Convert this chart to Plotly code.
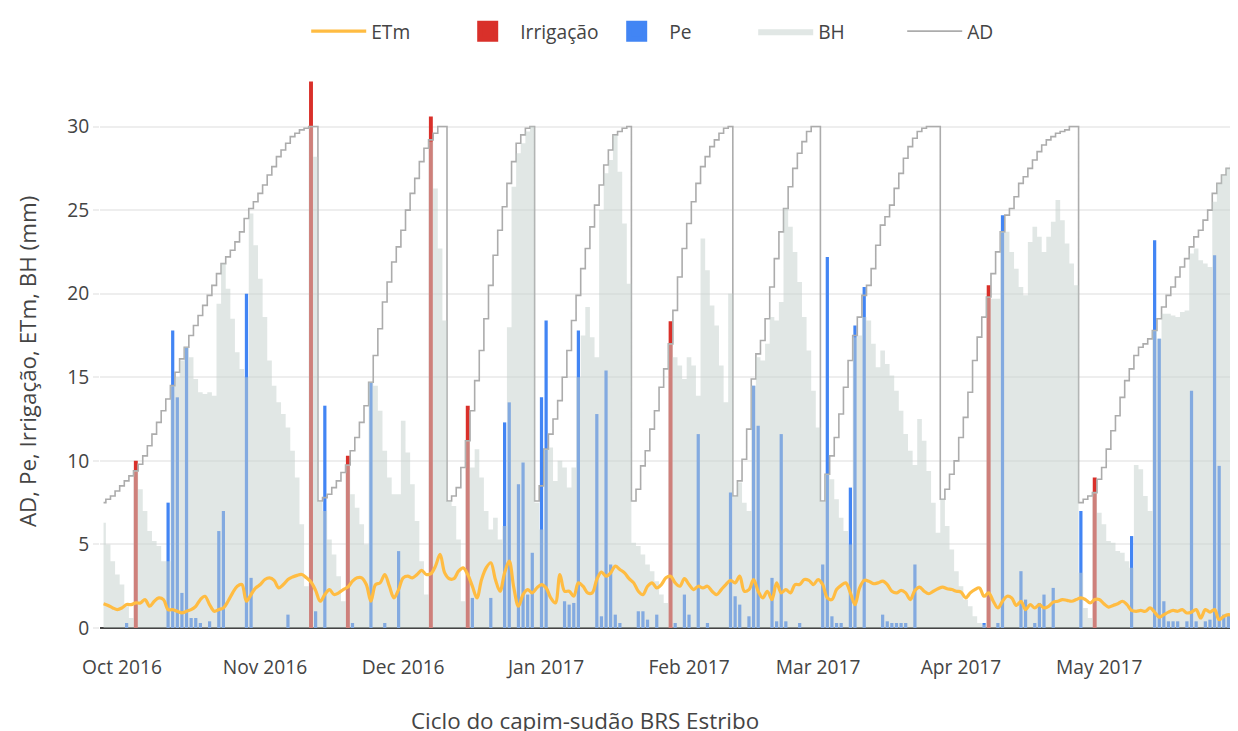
import pandas as pd
import plotly.graph_objects as go

# daily axis: 2016-09-27 .. 2017-05-31
dates = pd.date_range("2016-09-27", "2017-05-31", freq="D")

# AD (mm) - available water, daily
ad_mm = [
    # Sep 27-30
    7.5, 7.7, 7.9, 8.2,
    # Oct
    8.5, 8.8, 9.1, 9.4, 9.8, 10.3, 10.9, 11.6, 12.3, 13.0, 13.7, 14.5, 15.3, 16.1, 16.8, 17.5,
    18.1, 18.7, 19.3, 19.9, 20.5, 21.2, 21.8, 22.2, 22.6, 23.1, 23.7, 24.5, 25.1, 25.5, 26.0,
    # Nov
    26.5, 27.1, 27.6, 28.2, 28.6, 29.0, 29.4, 29.6, 29.8, 29.9, 30.0, 30.0,
    7.6, 7.8, 8.0, 8.4, 8.8, 9.3, 9.75, 10.6, 11.4, 12.3, 13.3, 14.7, 16.3, 17.9, 19.5, 20.7, 21.9, 22.8,
    # Dec
    23.8, 25.0, 26.0, 26.9, 27.9, 28.7, 29.2, 29.6, 30.0, 30.0,
    7.6, 7.9, 8.4, 9.6, 11.2, 13.0, 14.8, 16.6, 18.5, 20.5, 22.3, 23.8, 25.2, 26.6, 27.9, 29.0, 29.5, 29.9, 30.0,
    7.6, 8.5,
    # Jan
    10.7, 11.6, 12.5, 13.6, 15.0, 16.6, 18.4, 19.9, 21.5, 22.7, 24.0, 25.3, 26.5, 27.7, 28.6, 29.5, 29.7, 29.9, 30.0,
    7.6, 8.3, 9.7, 10.6, 11.9, 13.0, 14.4, 15.5, 17.0, 19.0, 21.0, 22.7,
    # Feb
    24.2, 25.5, 26.6, 27.6, 28.2, 28.8, 29.2, 29.6, 29.9, 30.0,
    7.9, 8.8, 10.1, 11.9, 14.9, 16.4, 17.2, 18.5, 20.4, 22.1, 23.7, 25.1, 26.4, 27.5, 28.4, 29.1, 29.7, 30.0,
    # Mar
    30.0,
    7.6, 9.2, 10.3, 11.4, 12.8, 14.4, 16.0, 17.5, 18.6, 19.9, 20.5, 21.5, 22.9, 24.1, 24.6, 25.3, 26.3,
    27.2, 28.1, 28.8, 29.3, 29.7, 29.9, 30.0, 30.0, 30.0,
    7.7, 8.3, 9.2, 10.0,
    # Apr
    11.4, 12.6, 14.1, 16.0, 17.4, 18.6, 19.8, 21.2, 22.5, 23.7, 24.7, 25.1, 25.8, 26.6, 27.0, 27.5, 28.0,
    28.5, 28.9, 29.2, 29.4, 29.6, 29.7, 29.8, 30.0, 30.0,
    7.5, 7.7, 7.9, 8.1,
    # May
    8.9, 9.6, 10.7, 11.8, 12.7, 13.8, 14.8, 15.5, 16.3, 16.8, 17.0, 17.3, 17.8, 18.5, 19.2, 19.9, 20.4,
    21.0, 21.6, 22.1, 22.8, 23.4, 23.8, 24.4, 25.0, 26.0, 26.6, 27.1, 27.5, 27.7, 27.9,
]

# BH (mm) - soil water balance, daily
bh_mm = [
    # Sep 27-30
    6.3, 5.0, 4.0, 3.2,
    # Oct
    2.6, 1.3, 0.6, 9.4, 8.3, 7.0, 5.8, 5.2, 4.9, 4.0, 4.0, 14.5, 15.0, 16.0, 16.8, 16.2,
    14.9, 14.1, 14.0, 14.1, 13.9, 19.4, 21.8, 20.3, 18.5, 16.5, 15.5, 15.0, 24.8, 22.9, 20.9,
    # Nov
    18.6, 16.0, 14.5, 13.5, 12.8, 12.0, 10.6, 9.0, 6.2, 2.5, 30.0, 28.2, 7.6, 7.0, 5.3,
    4.4, 3.1, 1.6, 9.75, 8.0, 7.2, 6.2, 5.0, 14.7, 14.5, 13.0, 10.6, 9.0, 8.0, 8.0,
    # Dec
    12.4, 10.5, 8.6, 6.4, 4.0, 2.0, 29.1, 26.3, 22.7, 18.4, 7.6, 7.3, 5.3, 1.6, 11.2, 9.6,
    10.7, 9.0, 7.0, 5.9, 6.6, 5.3, 6.1, 18.0, 26.4, 28.4, 29.0, 29.7, 30.0, 7.5, 5.9,
    # Jan
    10.7, 10.8, 8.8, 10.0, 9.6, 8.4, 9.6, 15.0, 17.5, 19.2, 17.4, 16.2, 25.0, 27.2, 28.0, 29.5,
    27.3, 24.2, 20.6, 5.1, 4.9, 4.4, 3.8, 3.4, 2.8, 2.0, 1.5, 17.0, 16.2, 15.7, 14.9,
    # Feb
    16.2, 15.7, 13.9, 23.3, 21.4, 19.3, 18.1, 15.7, 13.5, 20.0, 7.9, 8.7, 7.5, 7.0,
    14.5, 16.2, 16.0, 17.0, 18.6, 18.4, 19.5, 25.1, 24.0, 22.5, 20.7, 18.6, 16.6, 14.2,
    # Mar
    12.0, 7.6, 9.2, 8.9, 7.7, 6.6, 5.8, 5.0, 17.4, 17.5, 18.6, 18.4, 17.0, 15.6, 16.6, 15.8,
    15.1, 14.2, 13.0, 11.6, 10.6, 9.75, 12.5, 11.2, 9.4, 7.5, 5.7, 7.7, 6.1, 4.7, 3.4,
    # Apr
    2.5, 1.7, 1.3, 0.7, 0.3, 0.2, 19.8, 19.7, 19.7, 23.7, 23.7, 22.5, 21.5, 20.4, 19.9,
    23.1, 24.0, 23.4, 22.5, 23.4, 24.3, 25.6, 24.4, 23.0, 21.8, 20.5, 3.3, 1.2, 0.6, 8.1,
    # May
    6.9, 6.2, 5.2, 5.1, 4.6, 4.5, 4.0, 3.6, 9.75, 9.5, 7.9, 7.0, 17.8, 17.3, 18.8, 18.8,
    18.7, 18.6, 18.9, 19.0, 22.4, 22.7, 22.0, 21.8, 21.6, 25.5, 26.6, 27.1, 27.5, 27.7, 27.9,
]

# ETm (mm/day)
etm_mm = [
    # Sep 27-30
    1.45, 1.35, 1.2, 1.1,
    # Oct
    1.2, 1.4, 1.4, 1.5, 1.5, 1.7, 1.3, 1.6, 1.8, 1.7, 1.1, 1.1, 1.0, 0.9, 1.0, 1.1,
    1.3, 1.7, 1.9, 1.4, 1.0, 1.1, 1.2, 1.6, 2.1, 2.5, 2.6, 1.6, 2.0, 2.4, 2.6,
    # Nov
    2.9, 3.0, 2.85, 2.4, 2.6, 2.9, 3.05, 3.15, 3.2, 3.0, 2.75, 2.25, 1.6, 2.0, 2.3,
    2.0, 2.1, 2.3, 2.45, 2.8, 3.0, 3.0, 2.6, 1.6, 2.6, 2.7, 3.2, 2.5, 1.8, 2.3,
    # Dec
    3.0, 3.1, 3.0, 3.2, 3.45, 3.2, 3.25, 3.7, 4.4, 3.3, 2.95, 2.95, 3.4, 3.6, 3.2, 2.5,
    1.8, 2.9, 3.6, 3.9, 2.9, 2.2, 3.3, 4.0, 2.4, 1.3, 2.0, 2.3, 2.1, 2.4, 2.6,
    # Jan
    2.4, 1.8, 1.5, 3.2, 2.2, 2.2, 1.9, 2.7, 2.5, 2.1, 2.1, 2.9, 3.35, 3.1, 3.3, 3.7,
    3.5, 3.3, 2.95, 2.7, 2.2, 2.0, 2.5, 2.7, 2.4, 2.6, 3.0, 3.1, 2.7, 2.5, 2.95,
    # Feb
    2.6, 2.3, 2.5, 2.4, 2.5, 2.2, 2.0, 2.3, 2.6, 2.85, 2.7, 3.1, 2.2, 2.3,
    2.9, 2.2, 1.8, 2.2, 1.7, 2.7, 2.1, 2.3, 2.1, 2.6, 2.6, 2.9, 2.85, 2.6,
    # Mar
    2.9, 2.6, 1.8, 1.7, 2.3, 2.55, 2.7, 2.1, 1.4, 2.4, 2.85, 2.8, 2.65, 2.7, 2.8, 2.6,
    2.2, 2.1, 2.25, 2.1, 1.7, 2.25, 2.45, 2.2, 2.05, 2.2, 2.35, 2.45, 2.35, 2.3, 2.2,
    # Apr
    2.15, 1.8, 2.1, 2.3, 2.4, 1.9, 2.1, 1.6, 1.2, 1.6, 1.9, 1.8, 1.35, 1.6, 1.1,
    1.4, 1.2, 1.4, 1.2, 1.3, 1.55, 1.6, 1.7, 1.65, 1.6, 1.7, 1.8, 1.7, 1.5, 1.7,
    # May
    1.7, 1.45, 1.25, 1.35, 1.45, 1.6, 1.4, 1.05, 1.0, 1.05, 1.0, 1.2, 0.95, 0.65, 0.8, 0.95,
    1.05, 1.0, 1.1, 0.9, 0.95, 1.1, 0.6, 1.1, 0.95, 1.1, 0.5, 0.7, 0.8, 0.75, 0.7,
]

# Pe (mm) - effective precipitation events
pe_dates = [
    "2016-10-02", "2016-10-11", "2016-10-12", "2016-10-13", "2016-10-14", "2016-10-15",
    "2016-10-16", "2016-10-17", "2016-10-18", "2016-10-20", "2016-10-22", "2016-10-23",
    "2016-10-28", "2016-10-29", "2016-11-06", "2016-11-12", "2016-11-14", "2016-11-20",
    "2016-11-24", "2016-11-27", "2016-11-30", "2016-12-16", "2016-12-20", "2016-12-23",
    "2016-12-24", "2016-12-26", "2016-12-27", "2016-12-28", "2016-12-29", "2016-12-31",
    "2017-01-01", "2017-01-05", "2017-01-06", "2017-01-07", "2017-01-08", "2017-01-12",
    "2017-01-13", "2017-01-14", "2017-01-15", "2017-01-16", "2017-01-17", "2017-01-21",
    "2017-01-22", "2017-01-23", "2017-01-25", "2017-01-29", "2017-01-31", "2017-02-01",
    "2017-02-03", "2017-02-05", "2017-02-10", "2017-02-11", "2017-02-12", "2017-02-14",
    "2017-02-15", "2017-02-16", "2017-02-19", "2017-02-20", "2017-02-21", "2017-02-22",
    "2017-02-25", "2017-03-02", "2017-03-03", "2017-03-04", "2017-03-05", "2017-03-06",
    "2017-03-08", "2017-03-09", "2017-03-11", "2017-03-15", "2017-03-16", "2017-03-17",
    "2017-03-18", "2017-03-19", "2017-03-20", "2017-03-22", "2017-04-06", "2017-04-09",
    "2017-04-10", "2017-04-14", "2017-04-15", "2017-04-17", "2017-04-18", "2017-04-19",
    "2017-04-21", "2017-04-27", "2017-05-08", "2017-05-13", "2017-05-14", "2017-05-15",
    "2017-05-16", "2017-05-17", "2017-05-18", "2017-05-20", "2017-05-21", "2017-05-22",
    "2017-05-24", "2017-05-25", "2017-05-26", "2017-05-27", "2017-05-28", "2017-05-29",
    "2017-05-30",
]
pe_mm = [
    0.3, 7.5, 17.8, 13.8, 2.1, 16.8,
    0.6, 0.6, 0.3, 0.4, 5.8, 7.0,
    20.0, 3.0, 0.8, 1.0, 13.3, 0.3,
    14.7, 0.3, 4.6, 1.8, 1.8, 12.3,
    13.5, 8.6, 9.9, 2.0, 4.5, 13.8,
    18.4, 1.6, 1.4, 1.5, 17.8, 12.8,
    0.7, 15.4, 3.8, 0.8, 0.3, 1.0,
    1.0, 0.5, 0.8, 0.3, 2.0, 0.8,
    11.6, 0.3, 8.1, 1.9, 1.4, 0.7,
    14.5, 12.1, 3.0, 0.4, 11.6, 0.4,
    0.3, 3.8, 22.2, 0.7, 0.3, 0.3,
    8.4, 18.1, 20.4, 0.8, 0.4, 0.3,
    0.3, 0.3, 0.3, 3.8, 0.3, 0.3,
    24.7, 3.4, 1.7, 0.3, 1.5, 2.0,
    2.4, 7.0, 5.5, 23.2, 17.3, 1.6,
    0.4, 0.4, 0.4, 0.4, 14.2, 0.4,
    0.4, 0.5, 22.3, 9.7, 0.8, 0.8,
    2.2,
]

# Irrigação (mm)
irr_dates = ["2016-10-04", "2016-11-11", "2016-11-19", "2016-12-07", "2016-12-15",
             "2017-01-28", "2017-04-07", "2017-04-30"]
irr_mm = [10.0, 32.7, 10.3, 30.6, 13.3, 18.35, 20.5, 9.0]

DAY_MS = 86400000
FONT = '"Open Sans", verdana, arial, sans-serif'
PE_COLOR = "#4285F4"
IRR_COLOR = "#D9302A"

fig = go.Figure()
fig.add_trace(go.Scatter(
    x=dates, y=ad_mm, name="AD", mode="lines",
    line=dict(color="rgb(172,172,172)", width=1.6, shape="hvh"),
))
fig.add_trace(go.Scatter(
    x=dates, y=bh_mm, name="BH", mode="lines",
    line=dict(width=0, shape="hvh", color="rgba(196,208,204,0.5)"),
    fill="tozeroy", fillcolor="rgba(196,208,204,0.5)",
))
fig.add_trace(go.Bar(
    x=pe_dates, y=pe_mm, name="Pe", legendgroup="pe", showlegend=False,
    marker=dict(color=PE_COLOR, line=dict(width=0)), width=0.7 * DAY_MS,
))
fig.add_trace(go.Bar(
    x=irr_dates, y=irr_mm, name="Irrigação", legendgroup="irr", showlegend=False,
    marker=dict(color=IRR_COLOR, line=dict(width=0)), width=0.85 * DAY_MS,
))
# legend swatches (large squares) for the bar series
fig.add_trace(go.Scatter(
    x=[None], y=[None], name="Pe", legendgroup="pe", mode="markers",
    marker=dict(symbol="square", size=16, color=PE_COLOR, line=dict(color=PE_COLOR, width=5)),
))
fig.add_trace(go.Scatter(
    x=[None], y=[None], name="Irrigação", legendgroup="irr", mode="markers",
    marker=dict(symbol="square", size=16, color=IRR_COLOR, line=dict(color=IRR_COLOR, width=5)),
))
fig.add_trace(go.Scatter(
    x=dates, y=etm_mm, name="ETm", mode="lines",
    line=dict(color="rgb(255,188,66)", width=3.2, shape="spline"),
))

# page body has an 8px margin, so the figure is 8px smaller than the window
fig.update_layout(
    width=1230, height=723,
    margin=dict(l=92, r=0, t=45, b=103, autoexpand=False),
    paper_bgcolor="white", plot_bgcolor="white",
    font=dict(family=FONT, size=19.2, color="#444"),
    barmode="overlay",
    showlegend=True,
    legend=dict(orientation="h", traceorder="reversed", x=0.1812, xanchor="left",
                y=1.038, yanchor="middle", font=dict(size=19.2, color="#444"),
                itemwidth=55, entrywidth=79, itemsizing="trace", bgcolor="rgba(0,0,0,0)"),
    xaxis=dict(type="date", range=["2016-09-26 05:30", "2017-05-31 02:00"],
               tick0="2016-10-01", dtick="M1", tickformat="%b %Y",
               showgrid=False, zeroline=False, showline=False,
               ticks="outside", ticklen=22, tickcolor="rgba(0,0,0,0)",
               tickfont=dict(size=19.2, color="#444")),
    yaxis=dict(range=[0, 34.4], dtick=5, tick0=0, showgrid=True, gridcolor="#eee", gridwidth=1.6,
               zeroline=True, zerolinecolor="#444", zerolinewidth=1.6,
               ticks="outside", ticklen=6, tickcolor="#eee", tickwidth=1.6,
               tickfont=dict(size=19.2, color="#444")),
    annotations=[
        dict(text="AD, Pe, Irrigação, ETm, BH (mm)", xref="paper", yref="paper",
             x=-0.0641, y=0.4626, textangle=-90, showarrow=False,
             xanchor="center", yanchor="middle", font=dict(size=22.4, color="#444")),
        dict(text="Ciclo do capim-sudão BRS Estribo", xref="paper", yref="paper",
             x=0.4262, y=-0.16, showarrow=False,
             xanchor="center", yanchor="middle", font=dict(size=22.4, color="#444")),
    ],
)

fig.write_html("out.html")
